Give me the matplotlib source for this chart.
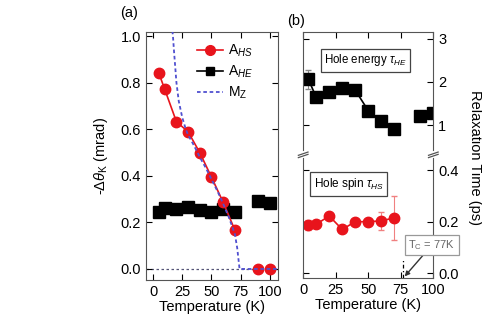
import numpy as np
import matplotlib
matplotlib.use("Agg")
import matplotlib.pyplot as plt

plt.rcParams['font.family'] = ['Liberation Sans', 'DejaVu Sans']
plt.rcParams['mathtext.fontset'] = 'custom'
plt.rcParams['mathtext.rm'] = 'Liberation Sans'
plt.rcParams['mathtext.it'] = 'Liberation Sans:italic'
plt.rcParams['font.size'] = 10

# panel (a): Kerr amplitudes
T_a = [5, 10, 20, 30, 40, 50, 60, 70, 90, 100]
A_HS = [0.84, 0.771, 0.632, 0.589, 0.499, 0.394, 0.286, 0.167, 0.0, 0.0]
A_HE = [0.246, 0.263, 0.256, 0.268, 0.253, 0.243, 0.258, 0.246, 0.293, 0.285]
T_mz = [16, 17, 18, 20, 22, 25, 28, 30, 35, 40, 45, 50, 55, 60, 65, 70, 72, 74, 110]
M_z = [1.05, 1.0, 0.93, 0.8, 0.72, 0.65, 0.6, 0.575, 0.53, 0.48, 0.435,
       0.385, 0.335, 0.28, 0.22, 0.15, 0.09, 0.0, 0.0]

# panel (b): relaxation times
T_he = [4, 10, 20, 30, 40, 50, 60, 70, 90, 100]
tau_HE = [2.06, 1.65, 1.77, 1.85, 1.81, 1.34, 1.10, 0.92, 1.21, 1.28]
err_HE = [0.22, 0, 0, 0, 0, 0, 0, 0, 0, 0]
T_hs = [4, 10, 20, 30, 40, 50, 60, 70]
tau_HS = [0.188, 0.19, 0.222, 0.17, 0.2, 0.2, 0.203, 0.215]
err_HS = [0.02, 0, 0, 0, 0, 0, 0.035, 0.085]

fig = plt.figure(figsize=(4.82, 3.27), dpi=100)

red = '#e8141c'

# ---- panel (a)
ax = fig.add_axes([0.303, 0.144, 0.274, 0.758])
ax.axhline(0, color='#555577', ls=(0, (2, 2)), lw=0.9, zorder=1)
ax.plot(T_a[:8], A_HS[:8], '-', color=red, lw=1.2, zorder=3)
ax.plot(T_a, A_HS, 'o', color=red, ms=7.5, zorder=4)
ax.plot(T_a[:8], A_HE[:8], '-', color='k', lw=1.2, zorder=2)
ax.plot(T_a, A_HE, 's', color='k', ms=8, zorder=2)
ax.plot(T_mz, M_z, color='#5050d0', ls=(0, (2, 1.5)), lw=1.3, zorder=5)
# legend proxies
h1, = ax.plot([], [], '-o', color=red, ms=7, lw=1.2)
h2, = ax.plot([], [], '-s', color='k', ms=6, lw=1.2)
h3, = ax.plot([], [], color='#5050d0', ls=(0, (2, 1.5)), lw=1.3)
ax.legend([h1, h2, h3], ['A$_{HS}$', 'A$_{HE}$', r'M$_\mathrm{Z}$'],
          loc='upper left', bbox_to_anchor=(0.344, 0.98), borderaxespad=0,
          frameon=False, handlelength=1.9, handletextpad=0.35,
          labelspacing=0.35, fontsize=10)
ax.set_xlim(-6, 107)
ax.set_ylim(-0.047, 1.017)
ax.set_xticks([0, 25, 50, 75, 100])
ax.set_yticks([0.0, 0.2, 0.4, 0.6, 0.8, 1.0])
ax.set_yticklabels(['0.0', '0.2', '0.4', '0.6', '0.8', '1.0'])
ax.tick_params(direction='in', top=True, right=True, length=4, labelsize=10.5)
ax.set_xlabel('Temperature (K)', fontsize=10.5, labelpad=1)
ax.set_ylabel(r'-$\Delta\theta_\mathrm{K}$ (mrad)', fontsize=10.5, labelpad=8)
for s in ax.spines.values():
    s.set_color('#555555')
ax.text(-0.2, 1.06, '(a)', transform=ax.transAxes, fontsize=10.5)

# ---- panel (b) top
bt = fig.add_axes([0.629, 0.541, 0.270, 0.361])
bt.errorbar(T_he[:8], tau_HE[:8], yerr=err_HE[:8], fmt='-s', color='k',
            ecolor='#888888', elinewidth=0.8, capsize=2, ms=8, lw=1.2)
bt.plot(T_he[8:], tau_HE[8:], 's', color='k', ms=8)
bt.set_xlim(0, 100)
bt.set_ylim(0.43, 3.15)
bt.set_yticks([1, 2, 3])
bt.set_xticks([0, 25, 50, 75, 100])
bt.tick_params(direction='in', top=True, right=True, length=4, labelsize=10.5,
               labelbottom=False, labelleft=False, labelright=True, bottom=False)
bt.spines['bottom'].set_visible(False)
bt.text(48, 2.5, r'Hole energy $\tau_{HE}$', ha='center', va='center',
        fontsize=8.3, bbox=dict(boxstyle='square,pad=0.3', fc='white', ec='#444444', lw=0.9))
bt.text(-0.12, 1.06, '(b)', transform=bt.transAxes, fontsize=10.5)

# ---- panel (b) bottom
bb = fig.add_axes([0.629, 0.150, 0.270, 0.367])
bb.errorbar(T_hs, tau_HS, yerr=err_HS, fmt='-o', color=red, ecolor='#f08080',
            elinewidth=0.8, capsize=2, ms=7.5, lw=1.2)
bb.set_xlim(0, 100)
bb.set_ylim(-0.018, 0.447)
bb.set_yticks([0.0, 0.2, 0.4])
bb.set_yticklabels(['0.0', '0.2', '0.4'])
bb.set_xticks([0, 25, 50, 75, 100])
bb.tick_params(direction='in', right=True, length=4, labelsize=10.5,
               labelleft=False, labelright=True, top=False)
bb.spines['top'].set_visible(False)
bb.set_xlabel('Temperature (K)', fontsize=10.5, labelpad=1)
bb.text(35, 0.346, r'Hole spin $\tau_{HS}$', ha='center', va='center',
        fontsize=8.5, bbox=dict(boxstyle='square,pad=0.3', fc='white', ec='#444444', lw=0.9))
bb.plot([77, 77], [-0.018, 0.06], color='k', ls=(0, (3, 2, 1, 2)), lw=0.9)
bb.annotate(r'T$_\mathrm{C}$ = 77K', xy=(78, -0.012), xytext=(99, 0.11),
            ha='center', va='center', fontsize=8, color='#666666',
            bbox=dict(boxstyle='square,pad=0.3', fc='white', ec='#999999', lw=0.9),
            arrowprops=dict(arrowstyle='-|>', color='#333333', lw=1.0,
                            shrinkA=0, shrinkB=0, mutation_scale=7),
            annotation_clip=False)
for a in (bt, bb):
    for s in a.spines.values():
        s.set_color('#555555')

# axis break marks
d = 0.01
kw = dict(transform=fig.transFigure, color='#555555', lw=0.9, clip_on=False)
for xb in (0.629, 0.899):
    fig.add_artist(plt.Line2D([xb - d, xb + d], [0.525, 0.535], **kw))
    fig.add_artist(plt.Line2D([xb - d, xb + d], [0.518, 0.528], **kw))

fig.text(0.985, 0.517, 'Relaxation Time (ps)', rotation=270, ha='center',
         va='center', fontsize=10.5)

fig.savefig('out.png', dpi=100)
